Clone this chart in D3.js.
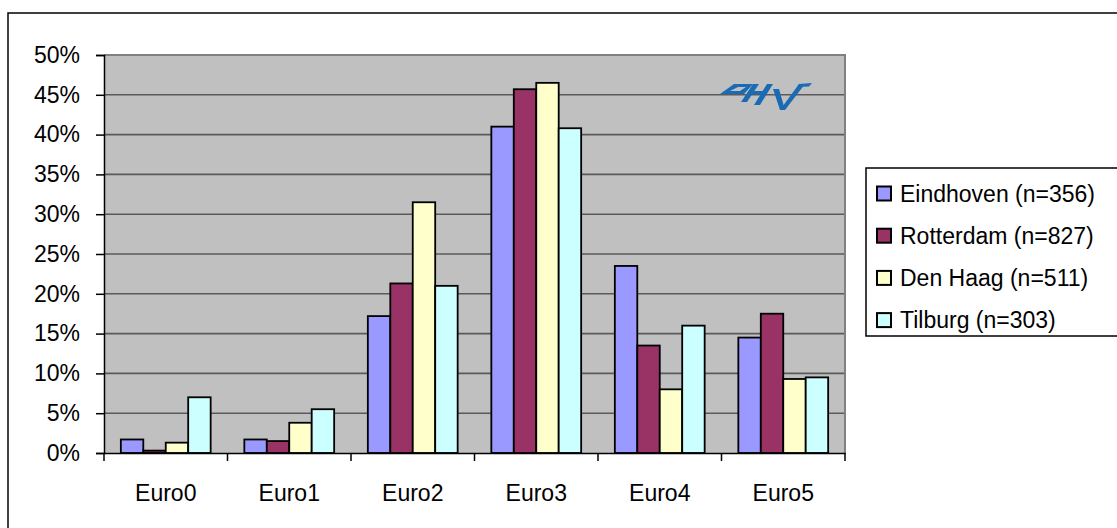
<!DOCTYPE html>
<html>
<head>
<meta charset="utf-8">
<script src="https://cdn.jsdelivr.net/npm/d3@7"></script>
<style>
  html, body { margin: 0; padding: 0; background: #fff; }
  svg { display: block; }
  text { font-family: Arial, "Liberation Sans", sans-serif; fill: #000; }
</style>
</head>
<body>
<svg id="chart" width="1117" height="528"></svg>
<script>
const categories = ["Euro0", "Euro1", "Euro2", "Euro3", "Euro4", "Euro5"];
const seriesNames = ["Eindhoven (n=356)", "Rotterdam (n=827)", "Den Haag (n=511)", "Tilburg (n=303)"];
const eindhoven = [1.7, 1.7, 17.2, 41.0, 23.5, 14.5];
const rotterdam = [0.3, 1.5, 21.3, 45.7, 13.5, 17.5];
const denHaag   = [1.3, 3.8, 31.5, 46.5, 8.0, 9.3];
const tilburg   = [7.0, 5.5, 21.0, 40.8, 16.0, 9.5];
const seriesColors = ["#9999FF", "#993366", "#FFFFCC", "#CCFFFF"];
const yTicks = [0, 5, 10, 15, 20, 25, 30, 35, 40, 45, 50];

const seriesValues = [eindhoven, rotterdam, denHaag, tilburg];
const FS = 23;

const svg = d3.select("#chart");
const plot = { left: 104, right: 845, top: 55, bottom: 453 };

// outer chart border
svg.append("rect").attr("x", 8).attr("y", 13).attr("width", 1200).attr("height", 600)
  .attr("fill", "#fff").attr("stroke", "#000").attr("stroke-width", 1.5);

const x0 = d3.scaleBand().domain(categories).range([plot.left, plot.right]).padding(0);
const gapRatio = 1.5;
const groupW = x0.bandwidth() * 4 / (4 + gapRatio);
const x1 = d3.scaleBand().domain(d3.range(seriesNames.length))
  .range([(x0.bandwidth() - groupW) / 2, (x0.bandwidth() + groupW) / 2]).padding(0);
const y = d3.scaleLinear().domain([0, 50]).range([plot.bottom, plot.top]);

// plot background
svg.append("rect").attr("x", plot.left).attr("y", plot.top)
  .attr("width", plot.right - plot.left).attr("height", plot.bottom - plot.top)
  .attr("fill", "#C0C0C0");

// gridlines
svg.append("g").selectAll("line").data(yTicks.filter(d => d > 0 && d < 50)).join("line")
  .attr("x1", plot.left).attr("x2", plot.right)
  .attr("y1", d => y(d)).attr("y2", d => y(d))
  .attr("stroke", "#5a5a5a").attr("stroke-width", 1.6);

// plot area top/right border
svg.append("path")
  .attr("d", `M${plot.left},${plot.top}H${plot.right}V${plot.bottom}`)
  .attr("fill", "none").attr("stroke", "#808080").attr("stroke-width", 2);

// logo (graphic)
const logo = svg.append("g").attr("fill", "#1A6AB4");
logo.append("path").attr("d",
  "M734,84 L753,84 L744,94 L720,94 Z M738,87 L746,87 L740,91 L730,91 Z")
  .attr("fill-rule", "evenodd");
logo.append("path").attr("d", "M753,84 L759,84 L747,102 L741,102 Z");
logo.append("path").attr("d", "M767,84 L773,84 L760,105 L754,105 Z");
logo.append("path").attr("d", "M749,91 L766,91 L764,94.5 L747,94.5 Z");
logo.append("path").attr("d", "M773,89 L779,89 L785,110 L780,110 Z");
logo.append("path").attr("d", "M799,84 L805,84 L785,110 L780,110 Z");
logo.append("path").attr("d", "M799,84 L812,83 L809,86.5 L797,87 Z");

// bars
const groups = svg.append("g").selectAll("g").data(categories).join("g")
  .attr("transform", d => `translate(${x0(d)},0)`);
groups.selectAll("rect")
  .data((c, ci) => seriesValues.map((vals, si) => ({ si, v: vals[ci] })))
  .join("rect")
  .attr("x", d => x1(d.si))
  .attr("width", x1.bandwidth())
  .attr("y", d => y(d.v))
  .attr("height", d => y(0) - y(d.v))
  .attr("fill", d => seriesColors[d.si])
  .attr("stroke", "#000").attr("stroke-width", 1.8);

// y axis
const yAxis = d3.axisLeft(y).tickValues(yTicks).tickFormat(d => d + "%").tickSize(8).tickPadding(16);
const yg = svg.append("g").attr("transform", `translate(${plot.left},0)`).call(yAxis);
yg.select(".domain").attr("stroke", "#000").attr("stroke-width", 1.5);
yg.selectAll(".tick line").attr("stroke", "#000").attr("stroke-width", 1.5);
yg.selectAll(".tick text").attr("font-size", FS)
  .attr("font-family", "Arial, 'Liberation Sans', sans-serif").attr("fill", "#000");

// x axis
const xAxis = d3.axisBottom(x0).tickSize(0).tickPadding(32);
const xg = svg.append("g").attr("transform", `translate(0,${plot.bottom})`).call(xAxis);
xg.select(".domain").attr("stroke", "#000").attr("stroke-width", 1.5);
xg.selectAll(".tick text").attr("font-size", FS)
  .attr("font-family", "Arial, 'Liberation Sans', sans-serif").attr("fill", "#000");
const boundaries = categories.map(c => x0(c)).concat([plot.right]);
xg.append("g").selectAll("line").data(boundaries).join("line")
  .attr("x1", d => d).attr("x2", d => d).attr("y1", 0).attr("y2", 8)
  .attr("stroke", "#000").attr("stroke-width", 1.5);

// legend
const legend = svg.append("g");
legend.append("rect").attr("x", 866).attr("y", 168).attr("width", 400).attr("height", 168)
  .attr("fill", "#fff").attr("stroke", "#000").attr("stroke-width", 1.5);
const rows = legend.selectAll("g.row").data(seriesNames).join("g").attr("class", "row")
  .attr("transform", (d, i) => `translate(0,${193.5 + i * 42.2})`);
rows.append("rect").attr("x", 877).attr("y", -7).attr("width", 14).attr("height", 14)
  .attr("fill", (d, i) => seriesColors[i]).attr("stroke", "#000").attr("stroke-width", 2);
rows.append("text").attr("x", 900).attr("y", 0).attr("dy", "0.36em")
  .attr("font-size", FS).text(d => d);
</script>
</body>
</html>
